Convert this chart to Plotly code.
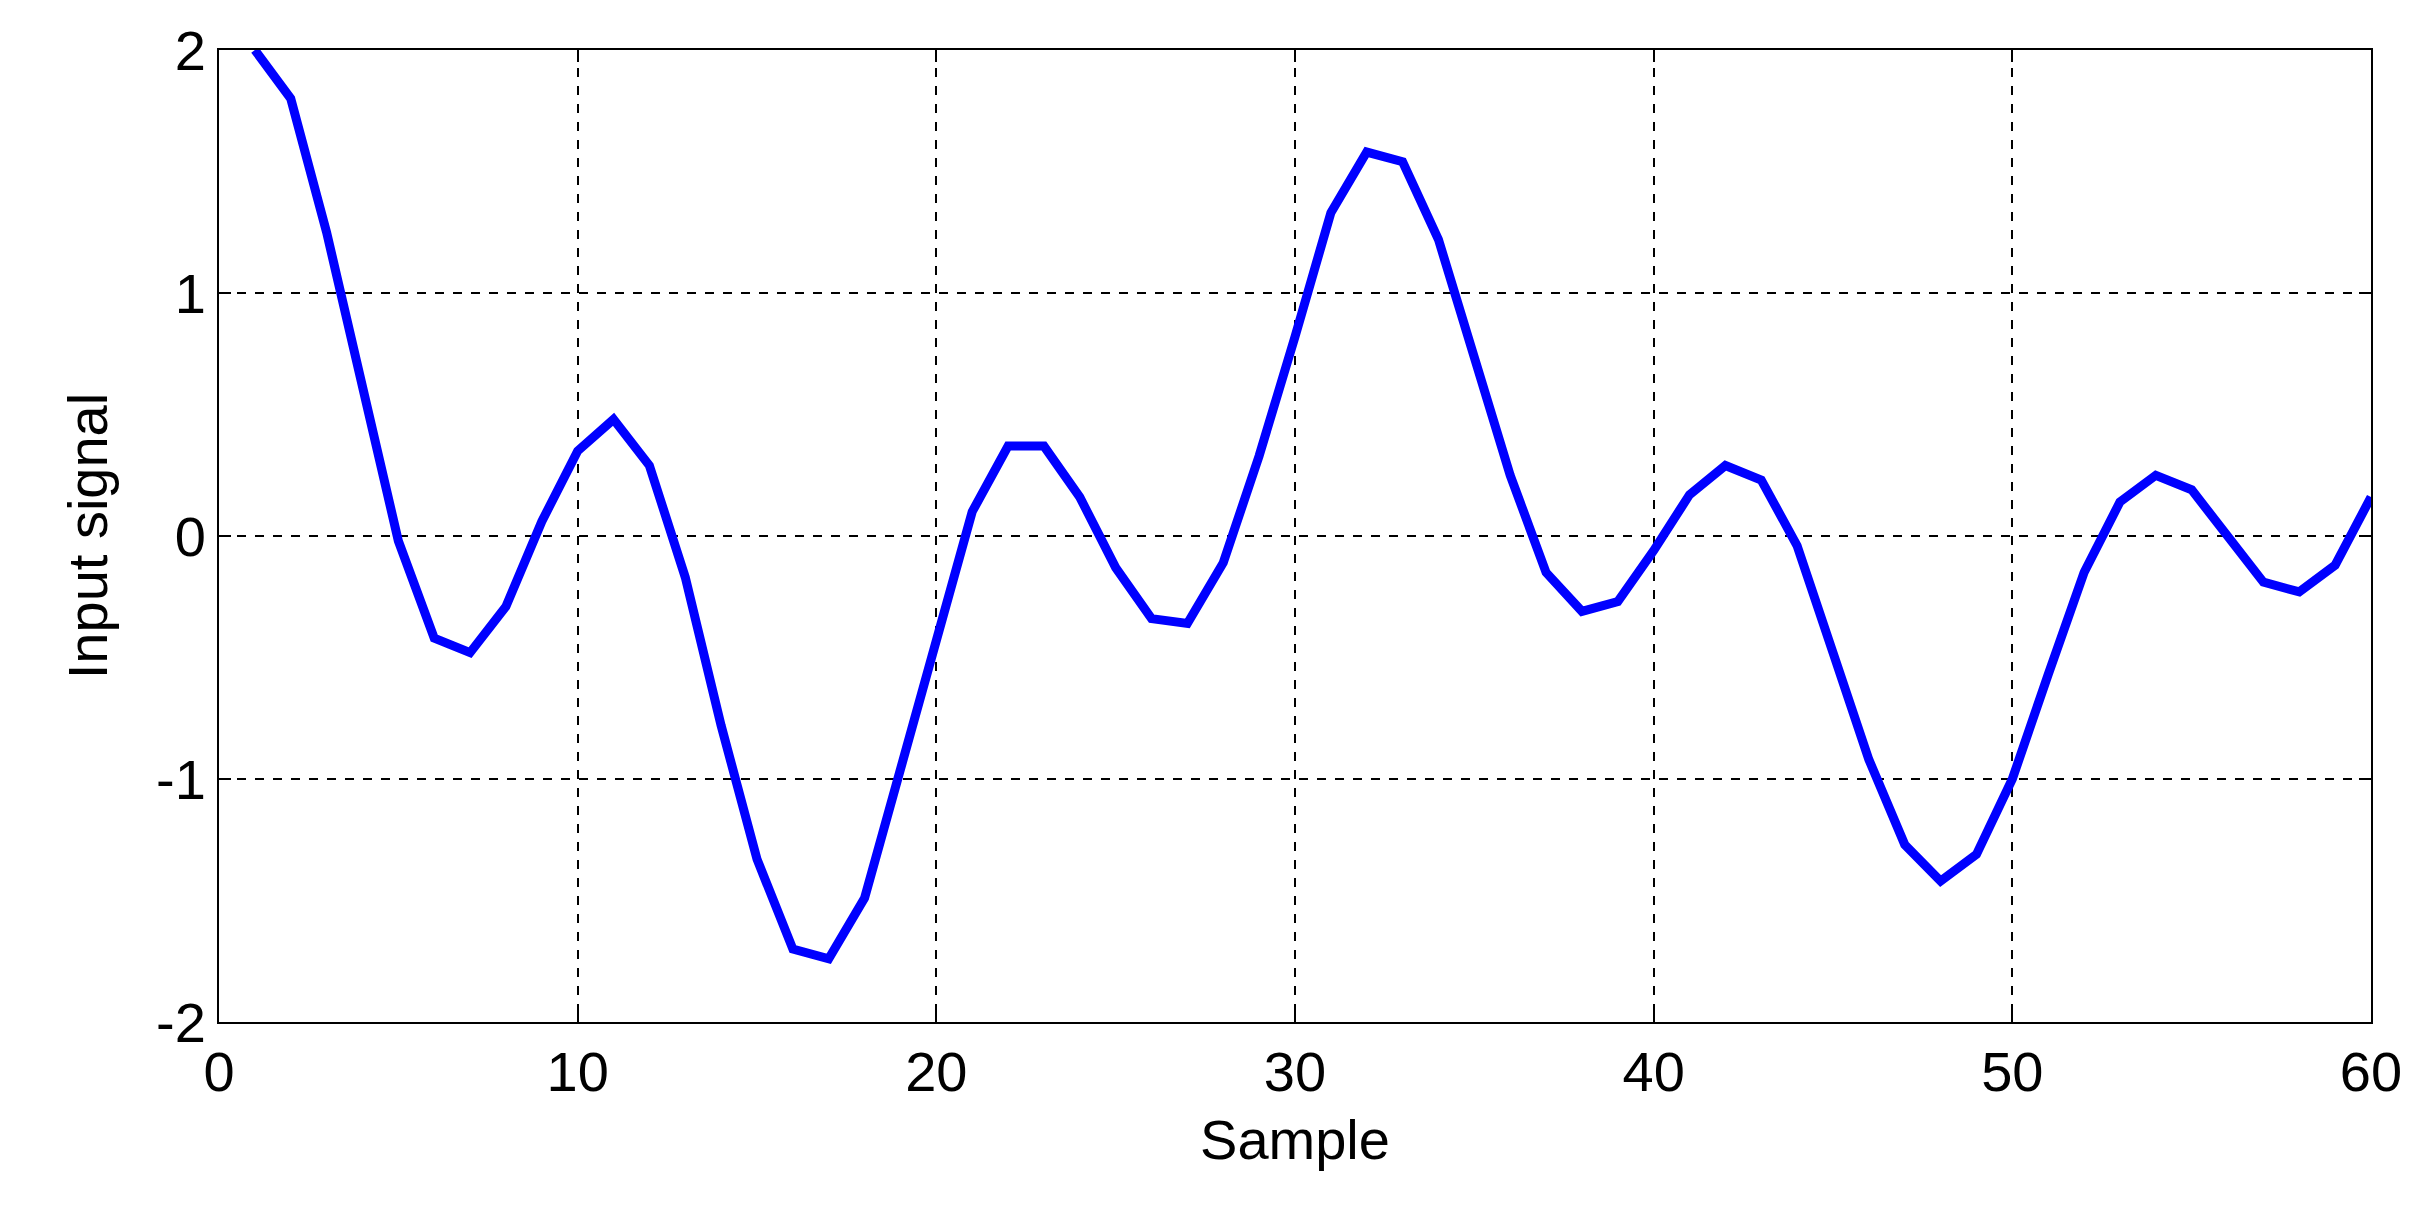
import plotly.graph_objects as go

# sample index and signal values
samples = list(range(1, 61))
signal = [2.0, 1.8, 1.25, 0.6, -0.02, -0.42, -0.48, -0.29, 0.06, 0.35,
          0.48, 0.29, -0.17, -0.78, -1.33, -1.7, -1.74, -1.49, -0.95, -0.42,
          0.1, 0.37, 0.37, 0.16, -0.13, -0.34, -0.36, -0.11, 0.33, 0.82,
          1.33, 1.58, 1.54, 1.22, 0.74, 0.25, -0.15, -0.31, -0.27, -0.06,
          0.17, 0.29, 0.23, -0.04, -0.48, -0.92, -1.27, -1.42, -1.31, -1.0,
          -0.57, -0.15, 0.14, 0.25, 0.19, 0.0, -0.19, -0.23, -0.12, 0.16]
y_ticks = [-2, -1, 0, 1, 2]
y_labels = ["-2", "-1", "0", "1", "2"]

fig = go.Figure(go.Scatter(x=samples, y=signal, mode="lines",
                           line=dict(color="#0000ff", width=9)))

axis = dict(showline=True, linecolor="black", linewidth=2, mirror="ticks",
            ticks="inside", ticklen=12, tickwidth=2, tickcolor="black",
            showgrid=True, gridcolor="black", griddash="dash", gridwidth=1.5,
            zeroline=False, tickfont=dict(size=56, color="black"))

fig.update_xaxes(range=[0, 60], dtick=10,
                 title=dict(text="Sample", font=dict(size=56), standoff=18), **axis)
fig.update_yaxes(range=[-2, 2], tickvals=y_ticks, ticktext=y_labels,
                 title=dict(text="Input signal", font=dict(size=56), standoff=30), **axis)

fig.update_layout(width=2411, height=1210, plot_bgcolor="white", paper_bgcolor="white",
                  font=dict(family="Liberation Sans, Arial", color="black"),
                  margin=dict(l=211, r=48, t=42, b=196), showlegend=False)

fig.write_html("out.html")
